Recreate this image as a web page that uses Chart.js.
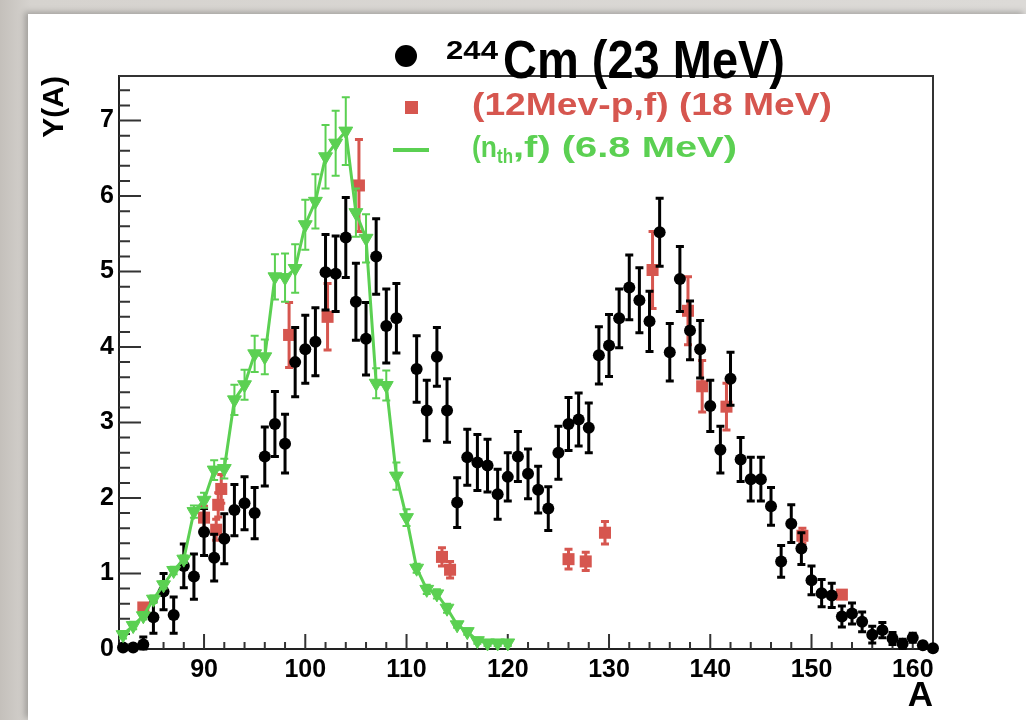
<!DOCTYPE html>
<html>
<head>
<meta charset="utf-8">
<script src="https://cdn.jsdelivr.net/npm/chart.js@4.4.1/dist/chart.umd.min.js"></script>
<style>
  html, body { margin: 0; padding: 0; width: 1026px; height: 720px; overflow: hidden; background: linear-gradient(90deg, #c4c0bb, #d6d3cf 3%, #dcdad7); }
  #sheet { position: absolute; left: 28px; top: 14px; width: 998px; height: 706px; background: #fff; box-shadow: -3px -2px 6px rgba(0,0,0,0.25); }
  #c { position: absolute; left: 0; top: 0; }
</style>
</head>
<body>
<div id="sheet"></div>
<canvas id="c" width="1026" height="720"></canvas>
<script>
// 244Cm (23 MeV) -- black circles
const cmA = [82, 83, 84, 85, 86, 87, 88, 89, 90, 91, 92, 93, 94, 95, 96, 97, 98, 99, 100,
  101, 102, 103, 104, 105, 106, 107, 108, 109, 111, 112, 113, 114, 115, 116, 117, 118, 119, 120,
  121, 122, 123, 124, 125, 126, 127, 128, 129, 130, 131, 132, 133, 134, 135, 136, 137, 138, 139, 140,
  141, 142, 143, 144, 145, 146, 147, 148, 149, 150, 151, 152, 153, 154, 155, 156, 157, 158, 159, 160,
  161, 162]
const cmY = [0.02, 0.02, 0.06, 0.42, 0.76, 0.45, 1.10, 0.96, 1.55, 1.21, 1.46, 1.84, 1.93, 1.80, 2.55, 2.98, 2.72, 3.80, 3.97,
  4.07, 4.99, 4.97, 5.45, 4.60, 4.11, 5.20, 4.28, 4.38, 3.71, 3.16, 3.87, 3.16, 1.94, 2.54, 2.47, 2.43, 2.05, 2.28,
  2.55, 2.32, 2.11, 1.86, 2.60, 2.98, 3.04, 2.93, 3.89, 4.02, 4.38, 4.79, 4.62, 4.34, 5.52, 3.93, 4.90, 4.22, 3.97, 3.22,
  2.64, 3.58, 2.51, 2.25, 2.25, 1.89, 1.16, 1.66, 1.33, 0.91, 0.74, 0.71, 0.43, 0.47, 0.36, 0.19, 0.25, 0.14, 0.07, 0.15,
  0.05, 0.01]
const cmErr = [0.02, 0.02, 0.10, 0.21, 0.24, 0.24, 0.29, 0.30, 0.31, 0.31, 0.33, 0.34, 0.35, 0.34, 0.39, 0.43, 0.39, 0.46, 0.45,
  0.45, 0.50, 0.50, 0.53, 0.51, 0.48, 0.50, 0.49, 0.46, 0.44, 0.40, 0.39, 0.42, 0.33, 0.37, 0.37, 0.35, 0.33, 0.32,
  0.33, 0.33, 0.31, 0.29, 0.35, 0.35, 0.35, 0.33, 0.38, 0.41, 0.39, 0.43, 0.43, 0.40, 0.45, 0.38, 0.43, 0.39, 0.38, 0.34,
  0.31, 0.35, 0.29, 0.29, 0.29, 0.25, 0.21, 0.25, 0.21, 0.19, 0.18, 0.16, 0.14, 0.14, 0.13, 0.11, 0.10, 0.08, 0.06, 0.06,
  0.04, 0.02]

// (12MeV-p,f) (18 MeV) -- red squares
const pA = [84.0, 90.0, 91.2, 91.4, 91.7, 98.4, 102.2, 105.3, 113.5, 114.3, 126.0, 127.7, 129.6, 134.3, 137.8, 139.2, 141.6, 149.1, 153.0]
const pY = [0.55, 1.74, 1.58, 1.91, 2.12, 4.16, 4.40, 6.14, 1.22, 1.05, 1.19, 1.16, 1.54, 5.02, 4.48, 3.48, 3.21, 1.50, 0.72]
const pErr = [0, 0.15, 0.14, 0.16, 0.19, 0.43, 0.44, 0.61, 0.12, 0.11, 0.13, 0.12, 0.15, 0.51, 0.45, 0.34, 0.31, 0.10, 0]

// (n_th,f) (6.8 MeV) -- green triangles with line
const nA = [82, 83, 84, 85, 86, 87, 88, 89, 90, 91, 92, 93, 94, 95, 96, 97, 98, 99, 100,
  101, 102, 103, 104, 105, 106, 107, 108, 109, 110, 111, 112, 113, 114, 115, 116, 117, 118, 119, 120]
const nY = [0.19, 0.31, 0.44, 0.66, 0.85, 1.04, 1.19, 1.82, 1.97, 2.37, 2.39, 3.30, 3.50, 3.91, 3.87, 4.93, 4.92, 5.04, 5.62,
  5.93, 6.52, 6.70, 6.86, 5.78, 5.44, 3.52, 3.49, 2.29, 1.74, 1.07, 0.79, 0.73, 0.54, 0.32, 0.23, 0.11, 0.08, 0.08, 0.08]
const nErr = [0.05, 0.05, 0.05, 0.05, 0.05, 0.05, 0.05, 0.08, 0.10, 0.13, 0.13, 0.20, 0.20, 0.24, 0.23, 0.30, 0.32, 0.32, 0.33,
  0.36, 0.42, 0.43, 0.45, 0.32, 0.32, 0.20, 0.20, 0.18, 0.11, 0.06, 0.06, 0.06, 0.06, 0.04, 0.04, 0.04, 0.04, 0.04, 0.04]

const xTicks = [90, 100, 110, 120, 130, 140, 150, 160]
const yTicks = [0, 1, 2, 3, 4, 5, 6, 7]

const RED = '#d6564f'
const GREEN = '#5bd052'
const FONT = '"Liberation Sans", Arial, Helvetica, sans-serif'

const toPoints = (xs, ys) => xs.map((x, i) => ({ x, y: ys[i] }))

// vertical error bars with caps, drawn just under each dataset's markers
const errorBars = {
  id: 'errorBars',
  beforeDatasetDraw(chart, args) {
    const ds = chart.data.datasets[args.index]
    if (!ds.errors) return
    const { x, y } = chart.scales
    const ctx = chart.ctx
    ctx.save()
    ctx.strokeStyle = ds.errColor
    ctx.lineWidth = ds.errWidth
    ds.data.forEach((p, i) => {
      const e = ds.errors[i]
      if (!e) return
      const px = x.getPixelForValue(p.x)
      const top = y.getPixelForValue(p.y + e)
      const bot = y.getPixelForValue(Math.max(p.y - e, 0))
      ctx.beginPath()
      ctx.moveTo(px, top); ctx.lineTo(px, bot)
      ctx.moveTo(px - 4, top); ctx.lineTo(px + 4, top)
      ctx.moveTo(px - 4, bot); ctx.lineTo(px + 4, bot)
      ctx.stroke()
    })
    ctx.restore()
  }
}

// ROOT-style frame: top/right lines plus inward major and minor ticks
const frame = {
  id: 'frame',
  beforeDatasetsDraw(chart) {
    const { ctx, chartArea: a, scales: { x, y } } = chart
    ctx.save()
    ctx.strokeStyle = '#333'
    ctx.lineWidth = 2
    ctx.beginPath()
    ctx.moveTo(a.left, a.top); ctx.lineTo(a.right, a.top); ctx.lineTo(a.right, a.bottom)
    for (let i = 0; i <= 37; i++) {
      const py = y.getPixelForValue(i / 5)
      ctx.moveTo(a.left, py); ctx.lineTo(a.left + (i % 5 === 0 ? 22 : 11), py)
    }
    for (let v = 82; v <= 162; v += 2) {
      const px = x.getPixelForValue(v)
      ctx.moveTo(px, a.bottom); ctx.lineTo(px, a.bottom - (v % 10 === 0 ? 15 : 7))
    }
    ctx.stroke()
    ctx.restore()
  }
}

const fitText = (ctx, text, x, base, size, width, color) => {
  ctx.font = `bold ${size}px ${FONT}`
  const w = ctx.measureText(text).width
  ctx.save()
  ctx.translate(x, base)
  ctx.scale(width / w, 1)
  ctx.fillStyle = color
  ctx.textAlign = 'left'
  ctx.textBaseline = 'alphabetic'
  ctx.fillText(text, 0, 0)
  ctx.restore()
}

const legendBox = {
  id: 'legendBox',
  afterDraw(chart) {
    const ctx = chart.ctx
    ctx.save()
    ctx.fillStyle = '#000'
    ctx.beginPath(); ctx.arc(406, 56, 11, 0, Math.PI * 2); ctx.fill()
    fitText(ctx, '244', 446, 59, 26, 52, '#000')
    fitText(ctx, 'Cm (23 MeV)', 503, 78, 53, 282, '#000')

    ctx.fillStyle = RED
    ctx.fillRect(405, 101, 13, 13)
    fitText(ctx, '(12Mev-p,f) (18 MeV)', 472, 115, 32, 360, RED)

    ctx.strokeStyle = GREEN
    ctx.lineWidth = 4
    ctx.beginPath(); ctx.moveTo(393, 150); ctx.lineTo(429, 150); ctx.stroke()
    fitText(ctx, '(n', 472, 157, 30, 25, GREEN)
    fitText(ctx, 'th', 497, 163, 20, 16, GREEN)
    fitText(ctx, ',f) (6.8 MeV)', 513, 157, 30, 224, GREEN)
    ctx.restore()
  }
}

new Chart(document.getElementById('c'), {
  type: 'scatter',
  data: {
    datasets: [
      {
        label: '(n_th,f) (6.8 MeV)',
        data: toPoints(nA, nY),
        errors: nErr, errColor: GREEN, errWidth: 2,
        showLine: true, borderColor: GREEN, borderWidth: 3, tension: 0,
        pointStyle: 'triangle', rotation: 180, pointRadius: 8,
        pointBackgroundColor: GREEN, pointBorderColor: GREEN, pointBorderWidth: 1,
        clip: false, order: 0
      },
      {
        label: '244Cm (23 MeV)',
        data: toPoints(cmA, cmY),
        errors: cmErr, errColor: '#000', errWidth: 3,
        pointStyle: 'circle', pointRadius: 6,
        pointBackgroundColor: '#000', pointBorderColor: '#000', pointBorderWidth: 0,
        clip: false, order: 1
      },
      {
        label: '(12Mev-p,f) (18 MeV)',
        data: toPoints(pA, pY),
        errors: pErr, errColor: RED, errWidth: 3,
        pointStyle: 'rect', pointRadius: 8.5,
        pointBackgroundColor: RED, pointBorderColor: RED, pointBorderWidth: 0,
        clip: false, order: 2
      }
    ]
  },
  options: {
    responsive: false,
    animation: false,
    devicePixelRatio: 1,
    layout: { padding: { top: 76, right: 93, left: 0, bottom: 0 } },
    plugins: { legend: { display: false }, tooltip: { enabled: false } },
    scales: {
      x: {
        type: 'linear', min: 81.6, max: 162,
        afterFit: s => { s.height = 71 },
        afterBuildTicks: s => { s.ticks = xTicks.map(v => ({ value: v })) },
        grid: { display: false, drawTicks: false },
        border: { display: true, color: '#222', width: 2 },
        ticks: { color: '#000', font: { family: FONT, size: 25, weight: 'bold' }, padding: 6, maxRotation: 0, autoSkip: false },
        title: { display: true, text: 'A', align: 'end', color: '#000', font: { family: FONT, size: 35, weight: 'bold' }, padding: { top: 0, bottom: 3 } }
      },
      y: {
        type: 'linear', min: 0, max: 7.59,
        afterFit: s => { s.width = 119 },
        afterBuildTicks: s => { s.ticks = yTicks.map(v => ({ value: v })) },
        grid: { display: false, drawTicks: false },
        border: { display: true, color: '#222', width: 2 },
        ticks: { color: '#000', font: { family: FONT, size: 25, weight: 'bold' }, padding: 5 },
        title: { display: true, text: 'Y(A)', align: 'end', color: '#000', font: { family: FONT, size: 30, weight: 'bold' }, padding: { top: 37, bottom: 0 } }
      }
    }
  },
  plugins: [errorBars, frame, legendBox]
})
</script>
</body>
</html>
